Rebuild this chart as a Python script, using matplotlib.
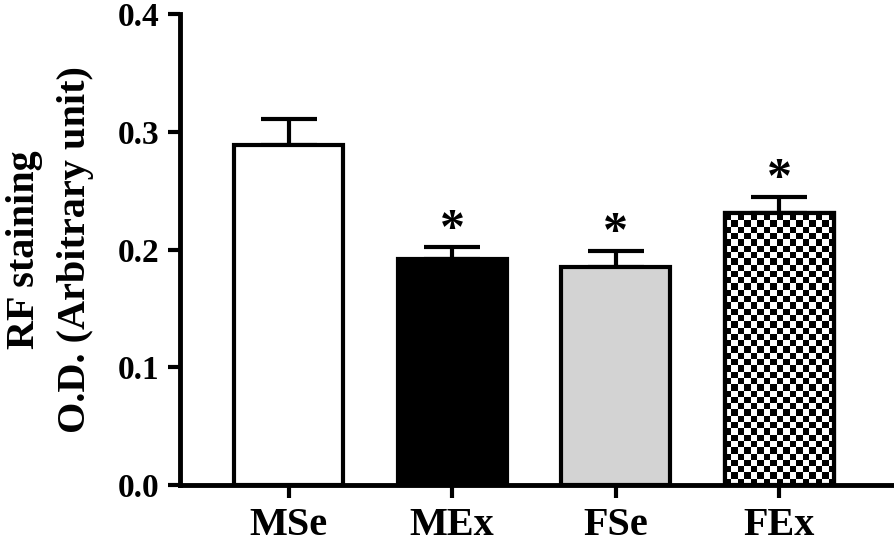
import numpy as np
import matplotlib
matplotlib.use("Agg")
import matplotlib.pyplot as plt

# values
groups = ["MSe", "MEx", "FSe", "FEx"]
means = [0.289, 0.192, 0.185, 0.231]
sem = [0.022, 0.010, 0.014, 0.0136]
significant = [False, True, True, True]
face_colors = ["white", "black", "#d3d3d3", "white"]

plt.rcParams["font.family"] = ["Liberation Serif", "DejaVu Serif"]
plt.rcParams["font.weight"] = "bold"

fig = plt.figure(figsize=(8.94, 5.43), dpi=100)
ax = fig.add_axes([0.2013, 0.1068, 0.7965, 0.867])

x = np.arange(len(groups))
width = 0.667

# error bars (upper only) drawn under the bars
ax.errorbar(x, means, yerr=[np.zeros(len(sem)), sem], fmt="none",
            ecolor="black", elinewidth=3, capsize=20, capthick=3, zorder=1)

bars = ax.bar(x, means, width, color=face_colors, edgecolor="black",
              linewidth=3, zorder=2)

# checkerboard fill for the last bar
b = bars[3]
sq_x = width / 17
sq_y = 0.00535
ncols = 17
nrows = int(np.ceil(means[3] / sq_y))
checker = np.indices((nrows, ncols)).sum(axis=0) % 2
x0 = b.get_x()
img = ax.imshow(checker, cmap="gray", interpolation="nearest", origin="lower",
                extent=[x0, x0 + ncols * sq_x, 0, nrows * sq_y],
                aspect="auto", zorder=2.5)
img.set_clip_path(b)
ax.bar(x[3], means[3], width, fill=False, edgecolor="black", linewidth=3,
       zorder=3)

for xi, m, e, s in zip(x, means, sem, significant):
    if s:
        ax.annotate("*", (xi, m + e), xytext=(0, 12), textcoords="offset points",
                    ha="center", va="center", fontsize=36, fontweight="bold")

ax.set_xlim(-0.664, 3.69)
ax.set_ylim(0, 0.4)
ax.set_yticks([0.0, 0.1, 0.2, 0.3, 0.4])
ax.set_yticklabels(["0.0", "0.1", "0.2", "0.3", "0.4"])
ax.set_xticks(x)
ax.set_xticklabels(groups)

for side in ["top", "right"]:
    ax.spines[side].set_visible(False)
for side in ["left", "bottom"]:
    ax.spines[side].set_linewidth(3.5)

ax.tick_params(axis="y", length=9, width=3, pad=6, labelsize=24)
ax.tick_params(axis="x", length=9, width=3, pad=7, labelsize=29)
for lab in ax.get_xticklabels() + ax.get_yticklabels():
    lab.set_fontweight("bold")

ax.set_ylabel("RF staining\nO.D. (Arbitrary unit)", fontsize=29,
              fontweight="bold", labelpad=17, linespacing=1.5)

fig.savefig("out.png", dpi=100)
